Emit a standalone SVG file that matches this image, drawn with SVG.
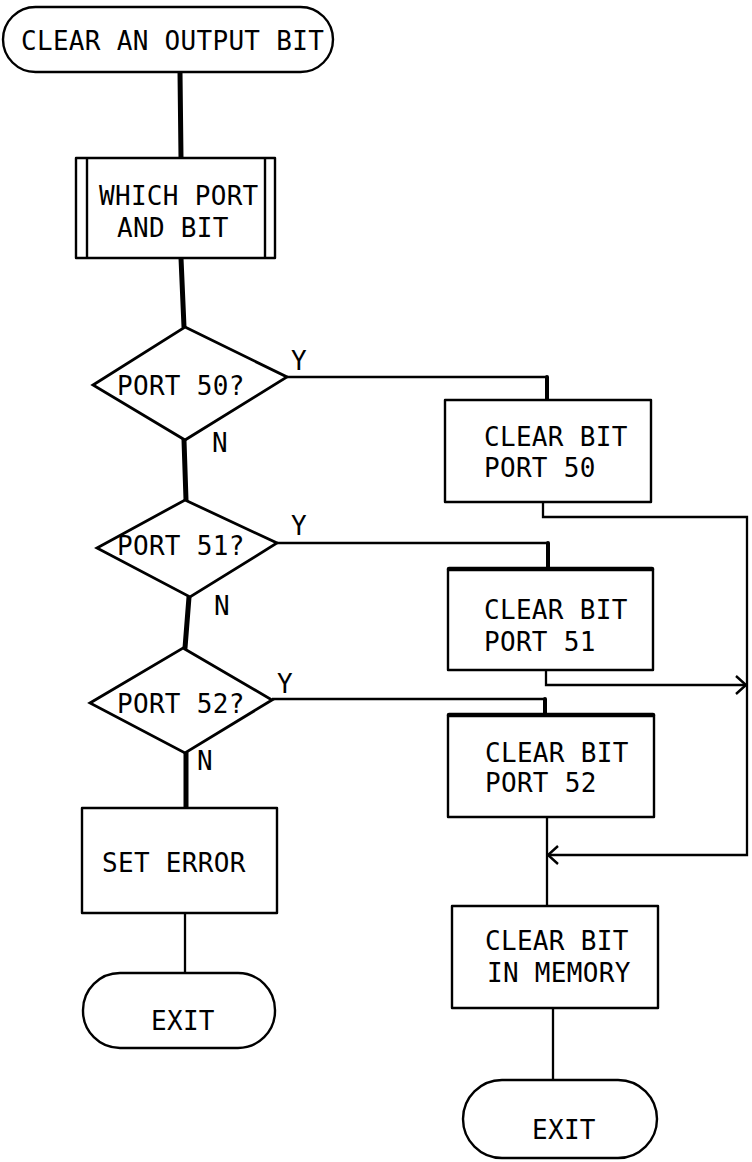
<svg xmlns="http://www.w3.org/2000/svg" width="752" height="1162" viewBox="0 0 752 1162">
<style>
  .shape { fill: #ffffff; stroke: #000000; stroke-width: 2.4; stroke-linejoin: round; }
  .dia { fill: #ffffff; stroke: #000000; stroke-width: 2.8; stroke-linejoin: miter; }
  .lbl { font-family: "DejaVu Sans Mono", "Liberation Mono", monospace; font-size: 26px; letter-spacing: 0.3px; fill: #000000; }
  .spine { fill: none; stroke: #000000; stroke-width: 5; stroke-linecap: round; }
  .conn { fill: none; stroke: #000000; stroke-width: 2.3; stroke-linejoin: miter; }
  .drop { fill: none; stroke: #000000; stroke-width: 4; stroke-linecap: round; }
  .thick { stroke: #000000; stroke-width: 4.5; stroke-linecap: round; }
</style>
<defs>
  <marker id="arr" viewBox="0 0 12 20" refX="11" refY="10" markerWidth="12" markerHeight="20" markerUnits="userSpaceOnUse" orient="auto">
    <path d="M1 1 L11 10 L1 19" fill="none" stroke="#000000" stroke-width="2.4" stroke-linejoin="miter"/>
  </marker>
</defs>
<rect width="752" height="1162" fill="#ffffff"/>

<g id="connectors">
  <path class="spine" d="M180 72 L181 158"/>
  <path class="spine" d="M181 258 L184 327"/>
  <path class="spine" d="M184 440 L186 500"/>
  <path class="spine" d="M189 597 L185 648"/>
  <path class="spine" d="M186 753 L186 808"/>
  <path class="conn" d="M185 913 V973"/>
  <path class="conn" d="M287 377 H547"/>
  <path class="drop" d="M547 377 V400"/>
  <path class="conn" d="M277 543 H548"/>
  <path class="drop" d="M548 543 V568"/>
  <path class="conn" d="M272 699 H545"/>
  <path class="drop" d="M545 699 V715"/>
  <path class="conn" d="M543 502 V517 H747 V855 H548" marker-end="url(#arr)"/>
  <path class="conn" d="M546 670 V685 H746" marker-end="url(#arr)"/>
  <path class="conn" d="M547 817 V906"/>
  <path class="conn" d="M553 1008 V1080"/>
</g>

<g id="start">
  <rect class="shape" x="3" y="7" width="330" height="65" rx="32.5" ry="32.5"/>
  <text class="lbl" x="21" y="50">CLEAR AN OUTPUT BIT</text>
</g>

<g id="which-port">
  <rect class="shape" x="76" y="158" width="199" height="100"/>
  <line class="shape" x1="87" y1="158" x2="87" y2="258"/>
  <line class="shape" x1="265" y1="158" x2="265" y2="258"/>
  <text class="lbl" x="99" y="205">WHICH PORT</text>
  <text class="lbl" x="117" y="237">AND BIT</text>
</g>

<g id="port50">
  <polygon class="dia" points="185,327 287,377 185,440 93,385"/>
  <text class="lbl" x="117" y="395">PORT 50?</text>
  <text class="lbl" x="291" y="370">Y</text>
  <text class="lbl" x="212" y="452">N</text>
</g>

<g id="port51">
  <polygon class="dia" points="185,500 277,543 190,597 97,548"/>
  <text class="lbl" x="117" y="555">PORT 51?</text>
  <text class="lbl" x="291" y="535">Y</text>
  <text class="lbl" x="214" y="615">N</text>
</g>

<g id="port52">
  <polygon class="dia" points="183,648 272,700 185,753 90,703"/>
  <text class="lbl" x="117" y="713">PORT 52?</text>
  <text class="lbl" x="277" y="693">Y</text>
  <text class="lbl" x="197" y="770">N</text>
</g>

<g id="clear50">
  <rect class="shape" x="445" y="400" width="206" height="102"/>
  <text class="lbl" x="484" y="446">CLEAR BIT</text>
  <text class="lbl" x="484" y="477">PORT 50</text>
</g>

<g id="clear51">
  <rect class="shape" x="448" y="569" width="205" height="101"/>
  <line class="thick" x1="449" y1="569" x2="652" y2="569"/>
  <text class="lbl" x="484" y="619">CLEAR BIT</text>
  <text class="lbl" x="484" y="651">PORT 51</text>
</g>

<g id="clear52">
  <rect class="shape" x="448" y="715" width="206" height="102"/>
  <line class="thick" x1="449" y1="715" x2="653" y2="715"/>
  <text class="lbl" x="485" y="762">CLEAR BIT</text>
  <text class="lbl" x="485" y="792">PORT 52</text>
</g>

<g id="set-error">
  <rect class="shape" x="82" y="808" width="195" height="105"/>
  <text class="lbl" x="102" y="872">SET ERROR</text>
</g>

<g id="exit-left">
  <rect class="shape" x="83" y="973" width="192" height="75" rx="37" ry="37"/>
  <text class="lbl" x="151" y="1030">EXIT</text>
</g>

<g id="clear-memory">
  <rect class="shape" x="452" y="906" width="206" height="102"/>
  <text class="lbl" x="485" y="950">CLEAR BIT</text>
  <text class="lbl" x="487" y="982">IN MEMORY</text>
</g>

<g id="exit-right">
  <rect class="shape" x="463" y="1080" width="194" height="78" rx="39" ry="39"/>
  <text class="lbl" x="532" y="1139">EXIT</text>
</g>
</svg>
